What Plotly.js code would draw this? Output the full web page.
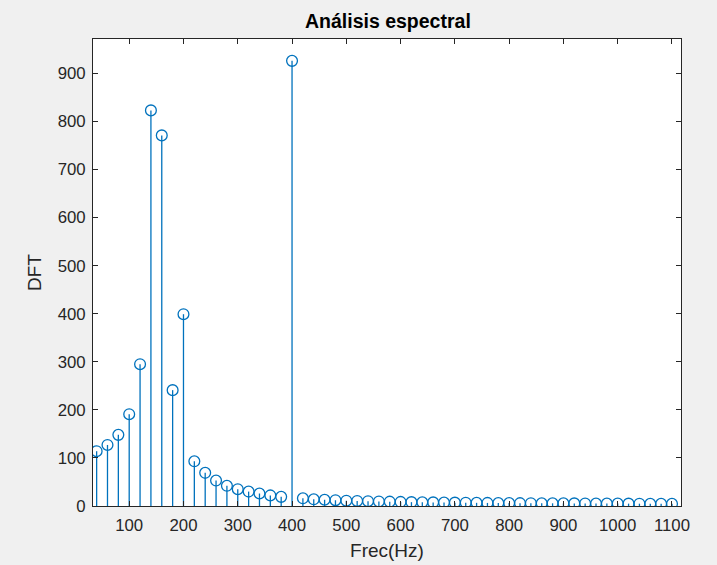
<!DOCTYPE html>
<html>
<head>
<meta charset="utf-8">
<script src="https://cdn.plot.ly/plotly-3.0.1.min.js"></script>
<style>html,body{margin:0;padding:0;background:#f0f0f0;}#chart{width:717px;height:565px;}</style>
</head>
<body>
<div id="chart"></div>
<script>
// Frequencies (Hz) and DFT magnitudes
const freqs = [40,60,80,100,120,140,160,180,200,220,240,260,280,300,320,340,360,380,400,
  420,440,460,480,500,520,540,560,580,600,620,640,660,680,700,720,740,760,780,800,
  820,840,860,880,900,920,940,960,980,1000,1020,1040,1060,1080,1100];
const dft = [114,127,148,191,295,823,771,241,399,93,69,53,42,35,30,26,22,19,926,
  16,14,13,12,11,10.5,10,9.5,9,8.5,8,7.8,7.5,7.2,7,6.8,6.6,6.4,6.2,6,
  5.9,5.8,5.7,5.6,5.5,5.4,5.3,5.2,5.1,5,4.9,4.8,4.7,4.6,4.5];
const xTicks = [100,200,300,400,500,600,700,800,900,1000,1100];
const yTicks = [0,100,200,300,400,500,600,700,800,900];

const stemColor = '#0072BD';
const sx = [], sy = [];
freqs.forEach((f, i) => { sx.push(f, f, null); sy.push(0, dft[i], null); });

const traces = [
  {x: sx, y: sy, type: 'scatter', mode: 'lines', line: {color: stemColor, width: 1.3},
   hoverinfo: 'skip', showlegend: false},
  {x: freqs, y: dft, type: 'scatter', mode: 'markers',
   marker: {symbol: 'circle-open', size: 10.8, color: stemColor, line: {width: 1.3, color: stemColor}},
   showlegend: false}
];

const fam = 'Liberation Sans, Arial, sans-serif';
const axisCommon = {
  showgrid: false, zeroline: false, showline: true, mirror: 'ticks',
  linecolor: '#262626', linewidth: 1, ticks: 'inside', ticklen: 5, tickcolor: '#262626',
  tickfont: {family: fam, size: 16.8, color: '#262626'}
};

const layout = {
  width: 717, height: 565,
  paper_bgcolor: '#f0f0f0', plot_bgcolor: '#ffffff',
  margin: {l: 93, r: 36, t: 39, b: 59, pad: 0},
  title: {text: '<b>Análisis espectral</b>', x: 0.541, xanchor: 'center', y: 0.963, yanchor: 'middle',
          font: {family: fam, size: 19.5, color: '#000000'}},
  xaxis: Object.assign({}, axisCommon, {
    range: [33.3, 1116.6], tickvals: xTicks, ticktext: xTicks.map(String), ticklabelstandoff: 4,
    title: {text: 'Frec(Hz)', standoff: 9, font: {family: fam, size: 19, color: '#262626'}}
  }),
  yaxis: Object.assign({}, axisCommon, {
    range: [0, 971.5], tickvals: yTicks, ticktext: yTicks.map(String), ticklabelstandoff: 3,
    title: {text: 'DFT', standoff: 10, font: {family: fam, size: 19, color: '#262626'}}
  }),
  showlegend: false
};

Plotly.newPlot('chart', traces, layout, {displayModeBar: false, staticPlot: true});
</script>
</body>
</html>
